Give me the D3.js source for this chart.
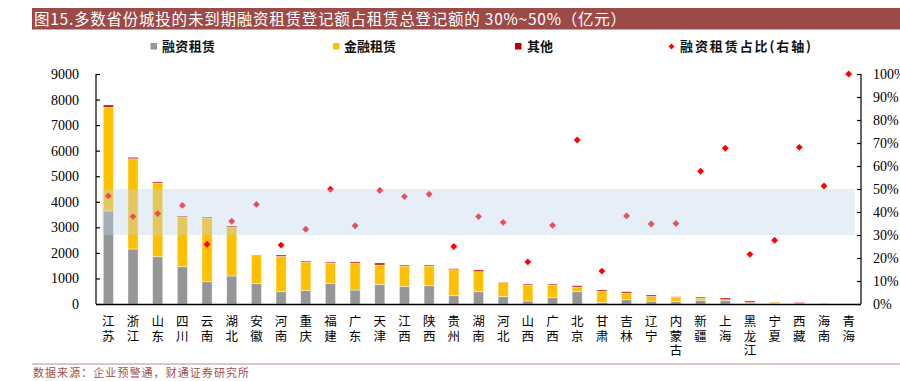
<!DOCTYPE html>
<html>
<head>
<meta charset="utf-8">
<script src="https://cdn.jsdelivr.net/npm/d3@7"></script>
<style>
html,body{margin:0;padding:0;background:#fff;}
svg{display:block;}
.vlab{writing-mode:vertical-rl;text-orientation:upright;}
</style>
</head>
<body>
<svg id="chart" width="900" height="381"></svg>
<script>
const categories = ["江苏","浙江","山东","四川","云南","湖北","安徽","河南","重庆","福建","广东","天津","江西","陕西","贵州","湖南","河北","山西","广西","北京","甘肃","吉林","辽宁","内蒙古","新疆","上海","黑龙江","宁夏","西藏","海南","青海"];
const finLease   = [3640,2152,1851,1460,873,1095,795,482,530,809,548,770,690,717,326,482,290,117,248,482,60,170,110,90,145,145,25,22,40,20,5];
const bankLease  = [4060,3533,2871,1944,2492,1905,1095,1383,1113,795,1042,756,797,770,1017,783,560,626,495,183,436,260,190,190,90,25,40,50,20,18,0];
const otherLease = [86,55,51,39,39,52,27,52,39,39,53,78,39,39,39,65,10,39,39,51,52,52,52,7,39,65,52,6,18,2,0];
const ratio      = [0.47,0.38,0.393,0.429,0.26,0.36,0.433,0.256,0.325,0.499,0.34,0.493,0.467,0.477,0.25,0.38,0.355,0.183,0.342,0.713,0.143,0.383,0.348,0.35,0.577,0.677,0.216,0.277,0.681,0.513,1.0];
const leftTicks  = [0,1000,2000,3000,4000,5000,6000,7000,8000,9000];
const rightTicks = [0,0.1,0.2,0.3,0.4,0.5,0.6,0.7,0.8,0.9,1.0];
const seriesNames = ["融资租赁","金融租赁","其他","融资租赁占比(右轴)"];
const titleText = "图15.多数省份城投的未到期融资租赁登记额占租赁总登记额的 30%~50%（亿元）";
const sourceText = "数据来源：企业预警通，财通证券研究所";

const svg = d3.select("#chart");
const L = 96, R = 861, T = 74, B = 304;
const cjk = "'Noto Sans CJK SC','Noto Sans',sans-serif";
const serif = "'Liberation Serif','DejaVu Serif',serif";

const x = d3.scaleBand().domain(categories).range([L, R]).paddingInner(0.59).paddingOuter(0.295);
const y = d3.scaleLinear().domain([0, 9000]).range([B, T]);
const y2 = d3.scaleLinear().domain([0, 1]).range([B, T]);

// title bar
svg.append("rect").attr("x", 32).attr("y", 8).attr("width", 868).attr("height", 21.5).attr("fill", "#9c4a47");
svg.append("text").attr("x", 34).attr("y", 24.5).attr("fill", "#fff")
  .attr("font-family", cjk).attr("font-size", 15.5)
  .attr("textLength", 592).attr("lengthAdjust", "spacing").text(titleText);

// legend
const legendItems = [
  {name: seriesNames[0], color: "#969696", sx: 150.5, tx: 162, tl: 53, type: "sq"},
  {name: seriesNames[1], color: "#ffc000", sx: 333, tx: 344, tl: 52, type: "sq"},
  {name: seriesNames[2], color: "#c00000", sx: 515, tx: 527, tl: 26, type: "sq"},
  {name: seriesNames[3], color: "#ff0000", sx: 671.5, tx: 680, tl: 131, type: "dm"}
];
const lg = svg.append("g");
legendItems.forEach(d => {
  if (d.type === "sq") {
    lg.append("rect").attr("x", d.sx).attr("y", 43).attr("width", 6.5).attr("height", 6.5).attr("fill", d.color);
  } else {
    lg.append("path").attr("d", d3.symbol().type(d3.symbolDiamond2).size(22)()).attr("transform", `translate(${d.sx},46.5)`).attr("fill", d.color);
  }
  lg.append("text").attr("x", d.tx).attr("y", 51).attr("font-family", cjk).attr("font-size", 13).attr("font-weight", "bold")
    .attr("fill", "#111").attr("textLength", d.tl).attr("lengthAdjust", "spacing").text(d.name);
});

// stacked bars
const stackData = categories.map((c, i) => ({cat: c, a: finLease[i], b: bankLease[i], c2: otherLease[i]}));
const stack = d3.stack().keys(["a", "b", "c2"])(stackData);
const colors = {a: "#969696", b: "#ffc000", c2: "#c00000"};
const gBars = svg.append("g");
stack.forEach(layer => {
  gBars.selectAll(null).data(layer).enter().append("rect")
    .attr("x", d => x(d.data.cat))
    .attr("width", x.bandwidth())
    .attr("y", d => y(d[1]))
    .attr("height", d => Math.max(0, y(d[0]) - y(d[1])))
    .attr("fill", colors[layer.key])
    .attr("stroke", "rgba(255,255,255,0.55)").attr("stroke-width", 0.8);
});

// ratio markers
svg.append("g").selectAll(null).data(categories).enter().append("path")
  .attr("d", d3.symbol().type(d3.symbolDiamond2).size(30)())
  .attr("transform", (d, i) => `translate(${x(d) + x.bandwidth() / 2},${y2(ratio[i])})`)
  .attr("fill", "#ff0000");

// band overlay 30%-50%
const bx0 = x(categories[0]) - 1, bx1 = x(categories[categories.length - 1]) + x.bandwidth() + 1;
svg.append("rect").attr("x", bx0).attr("width", bx1 - bx0)
  .attr("y", y2(0.5)).attr("height", y2(0.3) - y2(0.5))
  .attr("fill", "rgb(189,209,233)").attr("opacity", 0.38);

// axes
const axL = svg.append("g").attr("transform", `translate(${L},0)`)
  .call(d3.axisLeft(y).tickValues(leftTicks).tickSize(-4).tickPadding(17).tickFormat(d3.format("d")));
const axR = svg.append("g").attr("transform", `translate(${R},0)`)
  .call(d3.axisRight(y2).tickValues(rightTicks).tickSize(-4).tickPadding(12).tickFormat(d3.format(".0%")));
[axL, axR].forEach(a => {
  a.select(".domain").attr("stroke", "#000").attr("stroke-width", 1.2).attr("d", `M0,${T}V${B}`);
  a.selectAll(".tick line").attr("stroke", "#000").attr("stroke-width", 1.2);
  a.selectAll(".tick text").attr("font-family", serif).attr("font-size", 14).attr("fill", "#000");
});
svg.append("line").attr("x1", L).attr("x2", R).attr("y1", B + 0.5).attr("y2", B + 0.5).attr("stroke", "#000").attr("stroke-width", 1.5);

// vertical category labels
svg.append("g").selectAll(null).data(categories).enter().append("text")
  .attr("class", "vlab")
  .attr("x", d => x(d) + x.bandwidth() / 2)
  .attr("y", 315)
  .attr("font-family", cjk).attr("font-size", 12.5).attr("letter-spacing", 2.2)
  .attr("fill", "#000").text(d => d);

// footer
svg.append("line").attr("x1", 32).attr("x2", 900).attr("y1", 364).attr("y2", 364).attr("stroke", "#c08a88").attr("stroke-width", 1);
svg.append("text").attr("x", 33).attr("y", 377).attr("font-family", cjk).attr("font-size", 11).attr("fill", "#a0504c")
  .attr("textLength", 216).attr("lengthAdjust", "spacing").text(sourceText);
</script>
</body>
</html>
